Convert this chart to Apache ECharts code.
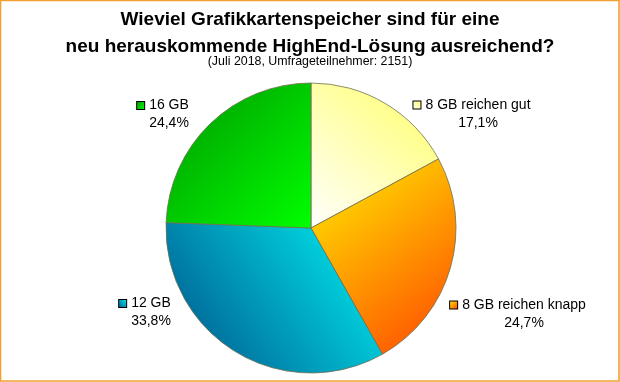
<!DOCTYPE html>
<html>
<head>
<meta charset="utf-8">
<script src="https://cdn.jsdelivr.net/npm/echarts@6/dist/echarts.min.js"></script>
<style>
html,body{margin:0;padding:0;background:#fff;}
#chart{width:620px;height:382px;}
</style>
</head>
<body>
<div id="chart"></div>
<script>
// ---- data ----
const titleLines = ['Wieviel Grafikkartenspeicher sind für eine', 'neu herauskommende HighEnd-Lösung ausreichend?'];
const subtitle = '(Juli 2018, Umfrageteilnehmer: 2151)';
const categories = ['8 GB reichen gut', '8 GB reichen knapp', '12 GB', '16 GB'];
const values = [17.1, 24.7, 33.8, 24.4];

// ---- styles ----
const FONT = '"Liberation Sans", Arial, sans-serif';
function grad(x, y, x2, y2, c1, c2) {
  return new echarts.graphic.LinearGradient(x, y, x2, y2, [{offset: 0, color: c1}, {offset: 1, color: c2}]);
}
const fills = [
  () => grad(0, 1, 1, 0, '#ffffff', '#ffff66'),
  () => grad(0, 0, 1, 1, '#fff000', '#ff4400'),
  () => grad(1, 0, 0, 1, '#00f4f4', '#004f88'),
  () => grad(0, 0, 1, 1, '#009600', '#00ff00')
];
// label anchor positions (center of text block)
const labelPos = [[472, 114], [518, 314], [145, 312.5], [163, 114.5]];

const chart = echarts.init(document.getElementById('chart'), null, {renderer: 'canvas'});

const data = categories.map((name, i) => ({
  name: name,
  value: values[i],
  itemStyle: {color: fills[i]()},
  label: {
    rich: {
      box: {width: 7, height: 7, backgroundColor: fills[i](), borderColor: '#000', borderWidth: 1}
    }
  }
}));

chart.setOption({
  animation: false,
  backgroundColor: '#fff',
  title: [
    {
      text: titleLines.join('\n'),
      left: 'center',
      top: 1,
      textStyle: {fontFamily: FONT, fontSize: 19, fontWeight: 'bold', color: '#000', lineHeight: 27}
    },
    {
      text: subtitle,
      left: 'center',
      top: 50,
      textStyle: {fontFamily: FONT, fontSize: 12.4, fontWeight: 'normal', color: '#000', lineHeight: 14}
    }
  ],
  graphic: [{
    type: 'rect',
    shape: {x: 0.5, y: 0.5, width: 618.5, height: 380.5},
    style: {fill: 'none', stroke: '#f4a030', lineWidth: 1.6},
    silent: true
  }],
  series: [{
    type: 'pie',
    center: [311, 228],
    radius: 145,
    startAngle: 90,
    clockwise: true,
    data: data,
    itemStyle: {borderColor: '#6e6e50', borderWidth: 0.8},
    labelLine: {show: false},
    label: {
      show: true,
      position: 'outside',
      overflow: 'none',
      width: 200,
      fontFamily: FONT,
      fontSize: 14,
      color: '#000',
      align: 'center',
      formatter: p => '{box|}{gap|}{name|' + p.name + '}\n{sp|}{pct|' + p.value.toFixed(1).replace('.', ',') + '%}',
      rich: {
        gap: {width: 5, height: 7},
        sp: {width: 12},
        name: {fontFamily: FONT, fontSize: 14, color: '#000', lineHeight: 18},
        pct: {fontFamily: FONT, fontSize: 14, color: '#000', lineHeight: 18}
      }
    },
    labelLayout: p => ({
      x: labelPos[p.dataIndex][0],
      y: labelPos[p.dataIndex][1],
      align: 'center',
      verticalAlign: 'middle',
      moveOverlap: null
    }),
    emphasis: {disabled: true}
  }]
});
</script>
</body>
</html>
